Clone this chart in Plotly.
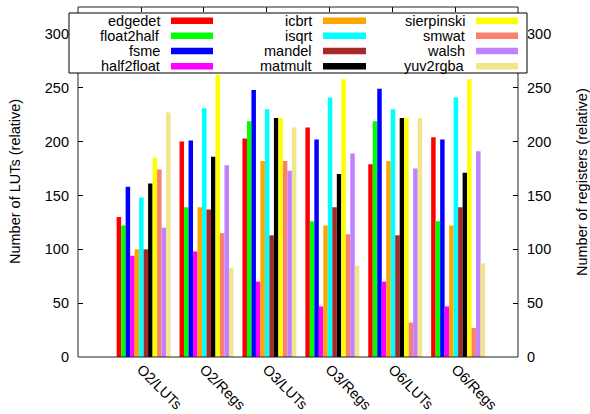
import plotly.graph_objects as go

categories = ["O2/LUTs", "O2/Regs", "O3/LUTs", "O3/Regs", "O6/LUTs", "O6/Regs"]
series_names = ["edgedet", "float2half", "fsme", "half2float", "icbrt", "isqrt",
                "mandel", "matmult", "sierpinski", "smwat", "walsh", "yuv2rgba"]
colors = ["#ff0000", "#00ff00", "#0000ff", "#ff00ff", "#ffa500", "#00ffff",
          "#a52a2a", "#000000", "#ffff00", "#fa8072", "#c080ff", "#f0e68c"]

edgedet    = [130, 200, 203, 213, 179, 204]
float2half = [122, 139, 219, 126, 219, 126]
fsme       = [158, 201, 248, 202, 249, 202]
half2float = [94, 98, 70, 47, 70, 47]
icbrt      = [100, 139, 182, 122, 182, 122]
isqrt      = [148, 231, 230, 241, 230, 241]
mandel     = [100, 137, 113, 139, 113, 139]
matmult    = [161, 186, 222, 170, 222, 171]
sierpinski = [185, 262, 222, 258, 222, 258]
smwat      = [174, 115, 182, 114, 32, 27]
walsh      = [120, 178, 173, 189, 175, 191]
yuv2rgba   = [227, 83, 213, 85, 222, 87]

series = [edgedet, float2half, fsme, half2float, icbrt, isqrt,
          mandel, matmult, sierpinski, smwat, walsh, yuv2rgba]

y_ticks = [0, 50, 100, 150, 200, 250, 300]
y_range = [0, 325]

FONT = "Liberation Sans, Arial, sans-serif"
FS = 14.5

xpos = list(range(len(categories)))
tick_shift = -0.041
tickpos = [p + tick_shift for p in xpos]
x_range = [-1.043, 5.952]

fig = go.Figure()
for name, vals, col in zip(series_names, series, colors):
    fig.add_trace(go.Bar(x=xpos, y=vals, name=name, marker=dict(color=col, line=dict(width=0)),
                         showlegend=False))
# empty trace so that the right-hand register axis is drawn
fig.add_trace(go.Scatter(x=[], y=[], yaxis="y2", showlegend=False, hoverinfo="skip"))

fig.update_layout(
    width=590, height=414,
    margin=dict(l=78, r=72, t=7, b=57, autoexpand=False),
    paper_bgcolor="white", plot_bgcolor="white",
    barmode="group", bargap=2/14, bargroupgap=0,
    font=dict(family=FONT, size=FS, color="black"),
    hovermode=False,
    xaxis=dict(range=x_range, tickvals=tickpos, ticktext=categories, tickangle=45,
               ticks="inside", ticklen=5, tickcolor="black", mirror="ticks", layer="below traces",
               showgrid=False, zeroline=False, showline=False,
               automargin=False, tickfont=dict(family=FONT, size=FS)),
    yaxis=dict(range=y_range, tickvals=y_ticks, ticks="inside", ticklen=5, tickcolor="black",
               showgrid=False, zeroline=False, showline=False,
               ticklabelstandoff=8, automargin=False,
               tickfont=dict(family=FONT, size=FS)),
    yaxis2=dict(range=y_range, overlaying="y", side="right", anchor="x", tickvals=y_ticks,
                ticks="inside", ticklen=5, tickcolor="black", showgrid=False, zeroline=False,
                showline=False, ticklabelstandoff=8, automargin=False,
                tickfont=dict(family=FONT, size=FS)),
)

def px_x(px):
    return (px - 78) / 440.0

def px_y(py):
    return (357 - py) / 350.0

# plot frame
fig.add_shape(type="rect", xref="paper", yref="paper", x0=0, x1=1, y0=0, y1=1,
              line=dict(color="#222222", width=1), fillcolor="rgba(0,0,0,0)", layer="above")

fig.add_annotation(text="Number of LUTs (relative)", textangle=-90, xref="paper", yref="paper",
                   x=px_x(15), y=px_y(182), xanchor="center", yanchor="middle", showarrow=False,
                   font=dict(family=FONT, size=FS))
fig.add_annotation(text="Number of registers (relative)", textangle=-90, xref="paper", yref="paper",
                   x=px_x(582), y=px_y(182), xanchor="center", yanchor="middle", showarrow=False,
                   font=dict(family=FONT, size=FS))

# legend box (gnuplot style: text then sample)
fig.add_shape(type="rect", xref="paper", yref="paper", x0=px_x(69), x1=px_x(527),
              y0=px_y(73), y1=px_y(13), fillcolor="white", line=dict(color="black", width=1),
              layer="above")
col_text_right = [161, 313, 466]
col_sample = [(171, 213), (323, 366), (476, 518)]
row_y = [20.7, 35.8, 51.0, 66.3]
for i, (name, col) in enumerate(zip(series_names, colors)):
    c, r = divmod(i, 4)
    yc = row_y[r]
    fig.add_annotation(text=name, xref="paper", yref="paper", x=px_x(col_text_right[c]),
                       y=px_y(yc), xanchor="right", yanchor="middle", showarrow=False,
                       font=dict(family=FONT, size=FS), borderpad=0)
    s0, s1 = col_sample[c]
    fig.add_shape(type="rect", xref="paper", yref="paper", x0=px_x(s0), x1=px_x(s1),
                  y0=px_y(yc + 3.3), y1=px_y(yc - 3.3), fillcolor=col, line=dict(width=0),
                  layer="above")

fig.write_html("out.html", config={"displayModeBar": False, "staticPlot": True},
               post_script="document.body.style.margin='0px';")
